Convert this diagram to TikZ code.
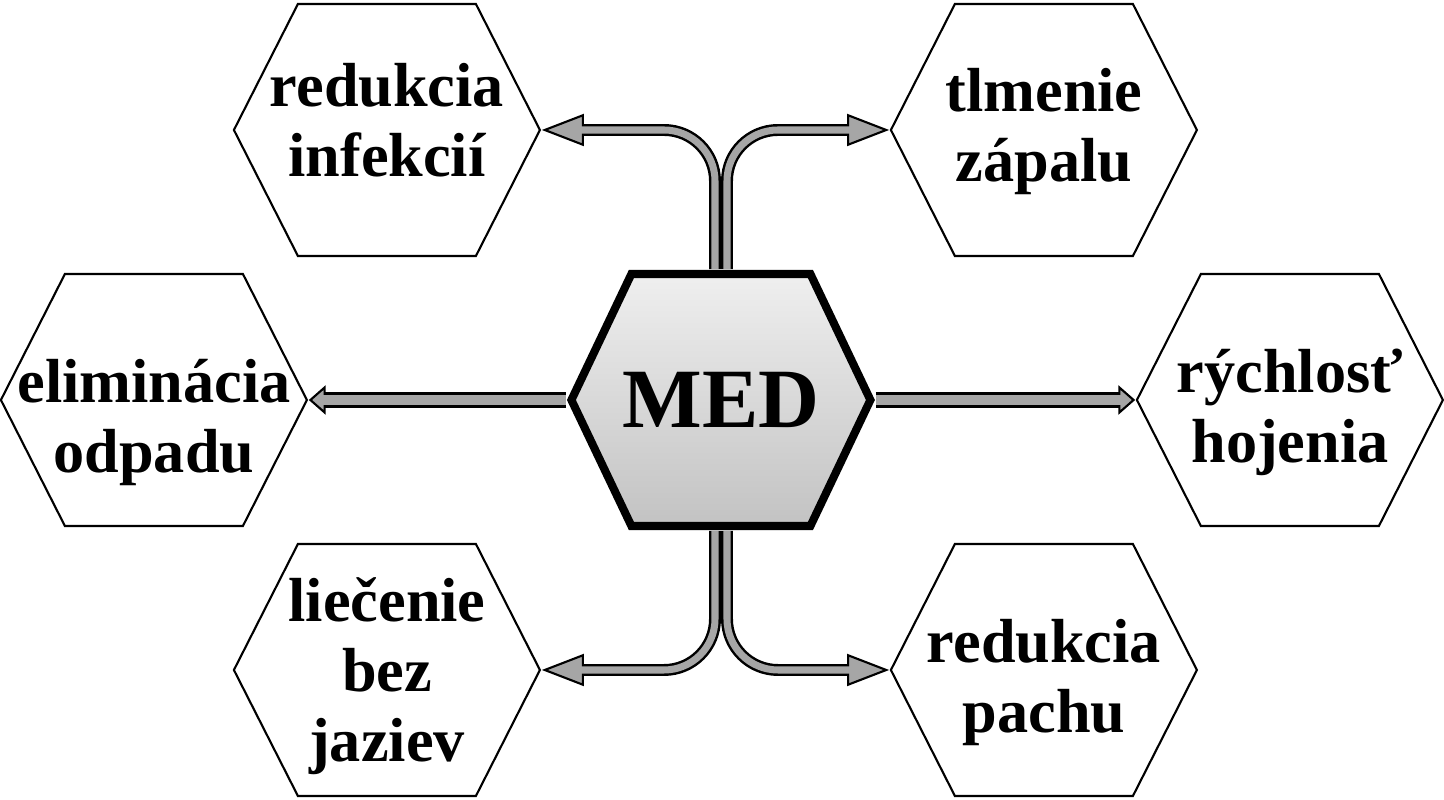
\documentclass[tikz,border=0pt]{standalone}
\usepackage{fontspec}
\setmainfont{Liberation Serif}
\usetikzlibrary{arrows.meta}

\definecolor{linkgray}{gray}{0.65}

\tikzset{
  hexa/.style={minimum width=3.08cm, minimum height=2.54cm, inner sep=0pt, align=center,
    font=\fontsize{17.7}{19.9}\selectfont\bfseries,
    path picture={\draw[line width=0.6pt] (path picture bounding box.west) ++(1,0)
      -- ++(64,126) -- ++(178,0) -- ++(64,-126) -- ++(-64,-126) -- ++(-178,0) -- cycle;}},
  core/.style={minimum width=3.08cm, minimum height=2.60cm, inner sep=0pt,
    font=\fontsize{24}{28}\selectfont\bfseries,
    path picture={\draw[line width=2.3pt, top color=gray!12, bottom color=gray!48]
      (path picture bounding box.west) ++(4.5,0)
      -- ++(60,126) -- ++(179,0) -- ++(60,-126) -- ++(-60,-126) -- ++(-179,0) -- cycle;}},
  link/.style={draw=black, line width=3.4pt, rounded corners=14.5pt,
    -{Triangle[length=12pt, width=9.1pt, fill=linkgray, line width=0.6pt]},
    postaction={draw=linkgray, line width=2pt, -, shorten >=10.5pt}},
  slink/.style={draw=black, line width=4.8pt,
    -{Triangle[length=4.8pt, width=8.3pt, fill=linkgray, line width=0.6pt]},
    postaction={draw=linkgray, line width=3.1pt, -, shorten >=4pt}}
}

\begin{document}
\begin{tikzpicture}[x=0.01cm, y=0.01cm]
  % keep the page at the size of the original
  \useasboundingbox (0,0) rectangle (1444,800);

  % the middle hexagon
  \node[core] (med) at (721,400) {MED};

  % the six around it (text height/depth only move the words up or down)
  \node[hexa, text depth=6pt]    (infek)  at (387,670)  {redukcia\\infekcií};
  \node[hexa, text depth=2.9pt]  (zapal)  at (1044,670) {tlmenie\\zápalu};
  \node[hexa, text height=41pt, text depth=0pt] (odpad) at (154,400) {eliminácia\\odpadu};
  \node[hexa, text height=35.8pt, text depth=0pt] (hojen) at (1290,400) {rýchlosť\\hojenia};
  \node[hexa, text depth=0pt]    (jaziev) at (387,130)  {liečenie\\bez\\jaziev};
  \node[hexa, text height=35.8pt, text depth=0pt] (pachu) at (1044,130) {redukcia\\pachu};

  % bent arrows going up and down
  \draw[link] ([xshift=-0.06cm]med.north) |- (infek.east);
  \draw[link] ([xshift=0.06cm]med.north) |- (zapal.west);
  \draw[link] ([xshift=-0.06cm]med.south) |- (jaziev.east);
  \draw[link] ([xshift=0.06cm]med.south) |- (pachu.west);

  % straight arrows to the sides
  \draw[slink] (med.west) -- (odpad.east);
  \draw[slink] (med.east) -- (hojen.west);
\end{tikzpicture}
\end{document}
